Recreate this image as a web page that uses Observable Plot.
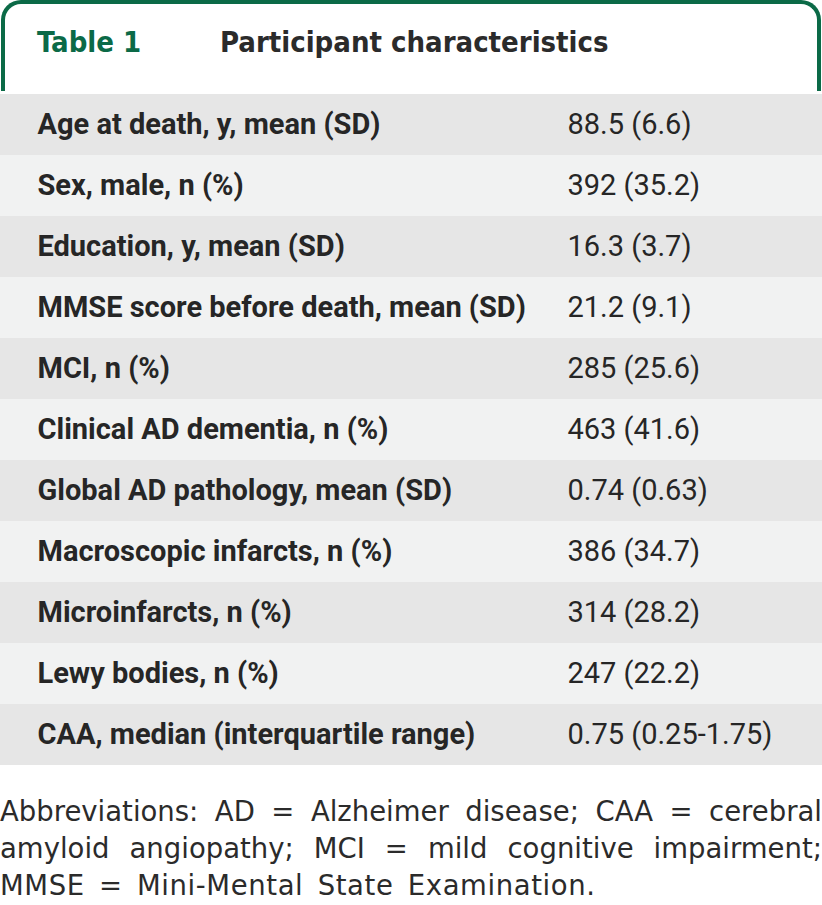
<!DOCTYPE html>
<html>
<head>
<meta charset="utf-8">
<script src="https://cdn.jsdelivr.net/npm/d3@7"></script>
<script src="https://cdn.jsdelivr.net/npm/@observablehq/plot@0.6"></script>
<style>
  html, body { margin: 0; padding: 0; background: #fff; overflow: hidden; }
  #wrap { width: 822px; }
  #head {
    box-sizing: border-box; height: 91px; margin: 0 1px;
    border: 4px solid #0b6a47; border-bottom: none;
    border-radius: 20px 20px 0 0; position: relative;
    font-family: "DejaVu Sans Condensed", "Liberation Sans Narrow", sans-serif; font-weight: bold;
  }
  #head .num { position: absolute; left: 32px; top: 21px; font-size: 29px; color: #0b6a47; }
  #head .ttl { position: absolute; left: 215px; top: 21px; font-size: 29px; color: #2b2b2b; }
  #chart svg { display: block; }
  #foot {
    font-family: "DejaVu Sans", sans-serif;
    font-size: 27.5px; line-height: 37px; color: #2b2b2b;
    margin-top: 25px; width: 822px;
  }
  #foot div { text-align: justify; text-align-last: justify; white-space: nowrap; }
  #foot div:last-child { text-align-last: left; letter-spacing: 0.6px; word-spacing: 5px; }
</style>
</head>
<body>
<div id="wrap">
  <div id="head"><span class="num"></span><span class="ttl"></span></div>
  <div id="chart"></div>
  <div id="foot"></div>
</div>
<script>
const tableNumber = "Table 1";
const tableTitle = "Participant characteristics";
const characteristics = [
  "Age at death, y, mean (SD)",
  "Sex, male, n (%)",
  "Education, y, mean (SD)",
  "MMSE score before death, mean (SD)",
  "MCI, n (%)",
  "Clinical AD dementia, n (%)",
  "Global AD pathology, mean (SD)",
  "Macroscopic infarcts, n (%)",
  "Microinfarcts, n (%)",
  "Lewy bodies, n (%)",
  "CAA, median (interquartile range)"
];
const values = [
  "88.5 (6.6)",
  "392 (35.2)",
  "16.3 (3.7)",
  "21.2 (9.1)",
  "285 (25.6)",
  "463 (41.6)",
  "0.74 (0.63)",
  "386 (34.7)",
  "314 (28.2)",
  "247 (22.2)",
  "0.75 (0.25-1.75)"
];
const columns = ["Characteristic", "Value"];
const footnoteLines = [
  "Abbreviations: AD = Alzheimer disease; CAA = cerebral",
  "amyloid angiopathy; MCI = mild cognitive impairment;",
  "MMSE = Mini-Mental State Examination."
];

document.querySelector("#head .num").textContent = tableNumber;
document.querySelector("#head .ttl").textContent = tableTitle;

const rows = characteristics.map((c, i) => ({label: c, value: values[i], idx: i}));

const chart = Plot.plot({
  width: 822,
  height: 677,
  margin: 0,
  style: {fontFamily: "Roboto, sans-serif", background: "#fff"},
  x: {type: "point", domain: columns, range: [37, 567], padding: 0, axis: null},
  y: {type: "band", domain: characteristics, padding: 0, axis: null},
  marks: [
    Plot.cell(rows.filter(d => d.idx % 2 === 0), {y: "label", fill: "#e6e6e6", inset: 0}),
    Plot.cell(rows.filter(d => d.idx % 2 === 1), {y: "label", fill: "#f1f2f2", inset: 0}),
    Plot.text(rows, {x: () => "Characteristic", y: "label", text: "label", textAnchor: "start",
      fontSize: 29, fontWeight: "bold", fill: "#262626"}),
    Plot.text(rows, {x: () => "Value", y: "label", text: "value", textAnchor: "start",
      fontSize: 29, fill: "#262626"})
  ]
});
document.getElementById("chart").appendChild(chart);
const foot = document.getElementById("foot");
footnoteLines.forEach(t => { const d = document.createElement("div"); d.textContent = t; foot.appendChild(d); });
</script>
</body>
</html>
